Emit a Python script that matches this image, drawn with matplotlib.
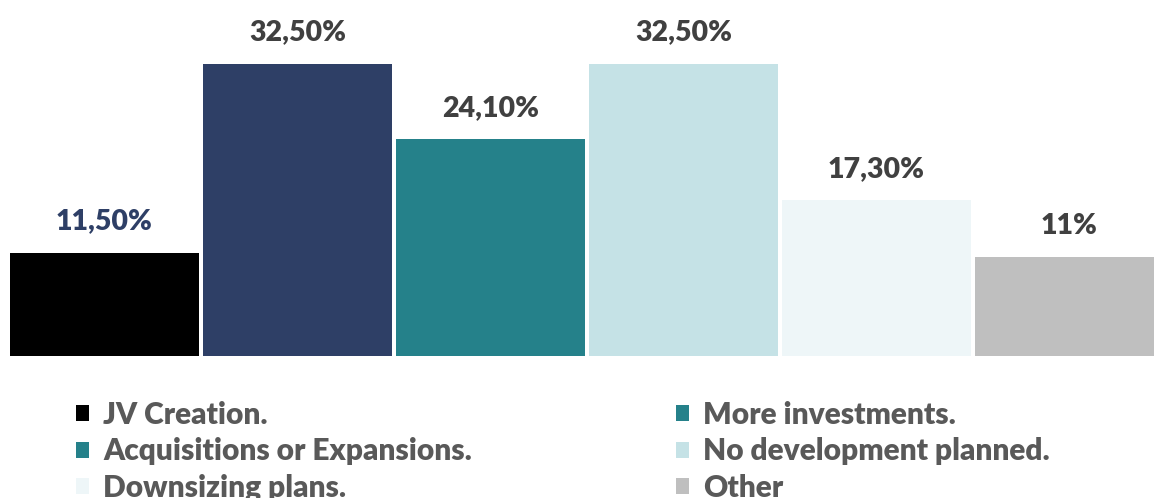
import matplotlib.pyplot as plt
from matplotlib.patches import Patch

plt.rcParams['font.family'] = ['Lato', 'DejaVu Sans']

# data
categories = ["JV Creation.", "More investments.", "Acquisitions or Expansions.",
              "No development planned.", "Downsizing plans.", "Other"]
values = [11.5, 32.5, 24.1, 32.5, 17.3, 11.0]
value_labels = ["11,50%", "32,50%", "24,10%", "32,50%", "17,30%", "11%"]
bar_colors = ["#000000", "#2E3F66", "#25818A", "#C5E2E6", "#EEF6F8", "#BFBFBF"]
# legend swatches as shown in the picture
legend_colors = ["#000000", "#25818A", "#25818A", "#C5E2E6", "#EEF6F8", "#BFBFBF"]
label_colors = ["#2E3F66", "#404040", "#404040", "#404040", "#404040", "#404040"]

W, H = 1154, 498
fig = plt.figure(figsize=(W / 100, H / 100), dpi=100)
ax = fig.add_axes([0, 0, 1, 1])
ax.set_axis_off()

x = list(range(len(values)))
ax.bar(x, values, width=0.979, color=bar_colors, edgecolor="none")

# pixel mapping: 193 px per bar slot, first bar starts at 10 px
slot = 193.0
left = -0.4895 - 10 / slot
ax.set_xlim(left, left + W / slot)
ppu = 9.0  # pixels per percent
base = 142.0  # baseline from the bottom, pixels
ax.set_ylim(-base / ppu, (H - base) / ppu)

for xi, v, lab, c in zip(x, values, value_labels, label_colors):
    ax.text(xi, v + 31 / ppu, lab, ha="center", va="center",
            fontsize=20.5, fontweight="heavy", color=c)

# legend in two columns, row-major order
handles = [Patch(facecolor=c, edgecolor="none") for c in legend_colors]
left_idx = [0, 2, 4]
right_idx = [1, 3, 5]
leg_kw = dict(loc="upper left", frameon=False,
              handlelength=0.45, handleheight=0.45, handletextpad=0.47,
              labelspacing=0.28, borderpad=0, borderaxespad=0,
              labelcolor="#595959", prop={"weight": "heavy", "size": 21.5})
leg1 = fig.legend([handles[i] for i in left_idx], [categories[i] for i in left_idx],
                  bbox_to_anchor=(76 / W, 1 - 401 / H), **leg_kw)
leg2 = fig.legend([handles[i] for i in right_idx], [categories[i] for i in right_idx],
                  bbox_to_anchor=(676 / W, 1 - 401 / H), **leg_kw)

fig.savefig("out.png", dpi=100)
